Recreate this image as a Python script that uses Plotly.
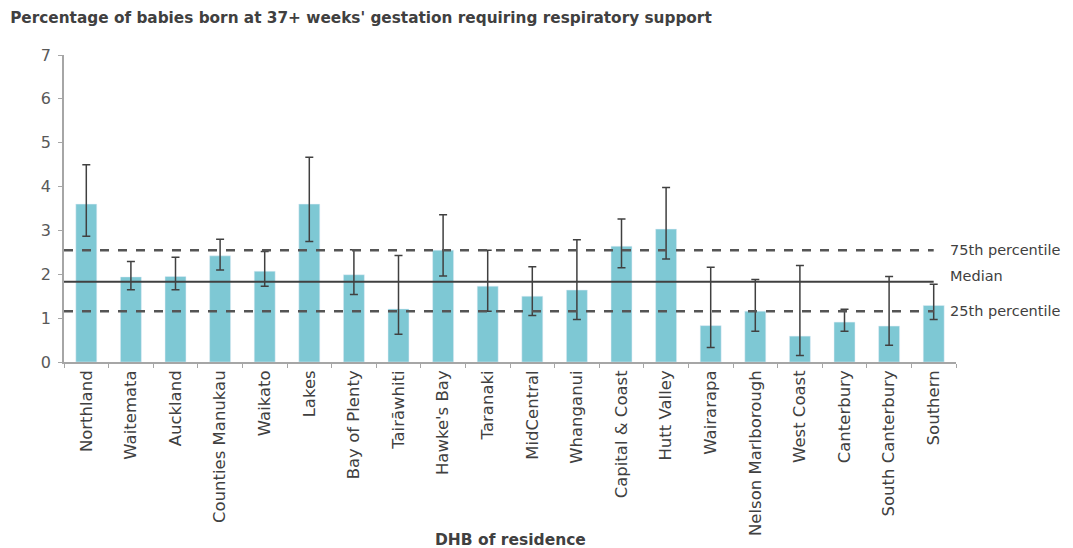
import plotly.graph_objects as go

categories = ["Northland", "Waitemata", "Auckland", "Counties Manukau", "Waikato", "Lakes",
              "Bay of Plenty", "Tairāwhiti", "Hawke's Bay", "Taranaki", "MidCentral", "Whanganui",
              "Capital & Coast", "Hutt Valley", "Wairarapa", "Nelson Marlborough", "West Coast",
              "Canterbury", "South Canterbury", "Southern"]
values = [3.6, 1.94, 1.95, 2.42, 2.07, 3.6, 1.99, 1.21, 2.55, 1.73, 1.5, 1.64, 2.64, 3.03,
          0.83, 1.16, 0.59, 0.91, 0.82, 1.29]
ci_upper = [4.5, 2.29, 2.39, 2.8, 2.52, 4.67, 2.56, 2.43, 3.36, 2.55, 2.17, 2.79, 3.26, 3.98,
            2.16, 1.88, 2.2, 1.2, 1.95, 1.77]
ci_lower = [2.87, 1.65, 1.65, 2.1, 1.73, 2.75, 1.54, 0.63, 1.96, 1.16, 1.06, 0.97, 2.15, 2.35,
            0.33, 0.7, 0.15, 0.7, 0.38, 0.97]
p75 = 2.55
median = 1.83
p25 = 1.16
ref_labels = ["75th percentile", "Median", "25th percentile"]
y_ticks = [0, 1, 2, 3, 4, 5, 6, 7]

FONT = "DejaVu Sans, Liberation Sans, Arial, sans-serif"

n = len(categories)
err_plus = [u - v for u, v in zip(ci_upper, values)]
err_minus = [v - l for v, l in zip(values, ci_lower)]

fig = go.Figure()
fig.add_trace(go.Bar(
    x=categories, y=values, marker_color="#7ec8d4", width=0.47,
    error_y=dict(type="data", symmetric=False, array=err_plus, arrayminus=err_minus,
                 color="#404040", thickness=1.5, width=4),
    showlegend=False,
))

line_specs = [(p75, "dash", "#555555", 2.5), (median, "solid", "#404040", 2), (p25, "dash", "#555555", 2.5)]
for yv, dash, col, w in line_specs:
    fig.add_shape(type="line", xref="x", yref="y", x0=-0.5, x1=n - 1, y0=yv, y1=yv,
                  line=dict(color=col, width=w, dash=dash))

for lab, yv in zip(ref_labels, [p75, median + 0.13, p25]):
    fig.add_annotation(x=1.0, xref="paper", xanchor="left", y=yv, yref="y", text=lab,
                       showarrow=False, xshift=-8,
                       font=dict(size=14.5, color="#404040", family=FONT))

fig.update_layout(
    width=1073, height=548,
    margin=dict(l=56, r=125, t=47, b=194),
    paper_bgcolor="white", plot_bgcolor="white",
    font=dict(family=FONT, color="#404040"),
    title=dict(text="<b>Percentage of babies born at 37+ weeks' gestation requiring respiratory support</b>",
               x=0.002, xanchor="left", y=0.982, yanchor="middle",
               font=dict(size=15.3, color="#404040", family=FONT)),
)
fig.update_xaxes(
    type="category", showline=True, linecolor="#a6a6a6", linewidth=1.5,
    ticks="outside", tickson="boundaries", ticklen=4, tickcolor="#a6a6a6",
    tickangle=-90, tickfont=dict(size=16.5, color="#404040", family=FONT), showgrid=False,
    range=[-0.5, n - 0.5],
)
fig.update_yaxes(
    range=[0, 7], tickvals=y_ticks, showline=True, linecolor="#a6a6a6", linewidth=1.5,
    ticks="outside", ticklen=4, tickcolor="#a6a6a6", showgrid=False, zeroline=False,
    ticklabelstandoff=4,
    tickfont=dict(size=16, color="#595959", family=FONT),
)
fig.add_annotation(x=0.5, xref="paper", y=-0.58, yref="paper", yanchor="middle",
                   text="<b>DHB of residence</b>", showarrow=False,
                   font=dict(size=15.5, color="#404040", family=FONT))

fig.write_html("out.html")
